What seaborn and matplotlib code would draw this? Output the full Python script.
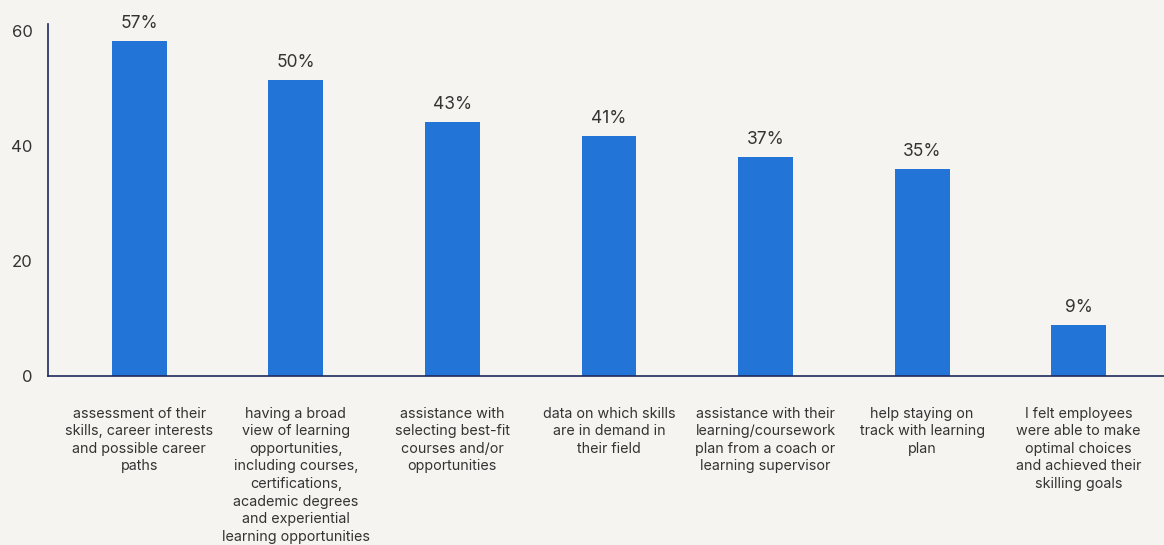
import matplotlib
matplotlib.use("Agg")
import matplotlib.pyplot as plt
import seaborn as sns
import pandas as pd

categories = [
    "assessment of their\nskills, career interests\nand possible career\npaths",
    "having a broad\nview of learning\nopportunities,\nincluding courses,\ncertifications,\nacademic degrees\nand experiential\nlearning opportunities",
    "assistance with\nselecting best-fit\ncourses and/or\nopportunities",
    "data on which skills\nare in demand in\ntheir field",
    "assistance with their\nlearning/coursework\nplan from a coach or\nlearning supervisor",
    "help staying on\ntrack with learning\nplan",
    "I felt employees\nwere able to make\noptimal choices\nand achieved their\nskilling goals",
]
values = [58.3, 51.5, 44.2, 41.8, 38.1, 36.0, 8.9]
value_labels = ["57%", "50%", "43%", "41%", "37%", "35%", "9%"]
yticks = [0, 20, 40, 60]

bg = "#f5f4f0"
bar_color = "#2274d7"
text_color = "#333333"
spine_color = "#1f2a5c"

sns.set_theme(style="white")
plt.rcParams["font.family"] = ["Inter", "DejaVu Sans"]

fig = plt.figure(figsize=(11.64, 5.45), dpi=100, facecolor=bg)
ax = fig.add_axes([48/1164, 1 - 376/545, 1 - 48/1164, (376 - 24)/545])
ax.set_facecolor(bg)

df = pd.DataFrame({"cat": categories, "val": values})
sns.barplot(data=df, x="cat", y="val", color=bar_color, width=0.35,
            saturation=1, linewidth=0, ax=ax)

for i, (v, lab) in enumerate(zip(values, value_labels)):
    ax.annotate(lab, (i, v), xytext=(0, 6.5), textcoords="offset points",
                ha="center", va="bottom", fontsize=12.5, color=text_color)

ax.set_xlim(-0.583, 6.545)
ax.set_ylim(0, 61.2)
ax.set_yticks(yticks)
ax.set_yticklabels([str(t) for t in yticks])
ax.tick_params(axis="y", length=0, pad=11, labelsize=12, labelcolor=text_color)
ax.tick_params(axis="x", length=0, pad=22, labelsize=10.3, labelcolor=text_color)
for lbl in ax.get_xticklabels():
    lbl.set_linespacing(1.33)
    lbl.set_ha("center")
ax.set_xlabel("")
ax.set_ylabel("")
for s in ["top", "right"]:
    ax.spines[s].set_visible(False)
for s in ["left", "bottom"]:
    ax.spines[s].set_color(spine_color)
    ax.spines[s].set_linewidth(1.2)
ax.grid(False)

fig.savefig("out.png", dpi=100, facecolor=bg)
